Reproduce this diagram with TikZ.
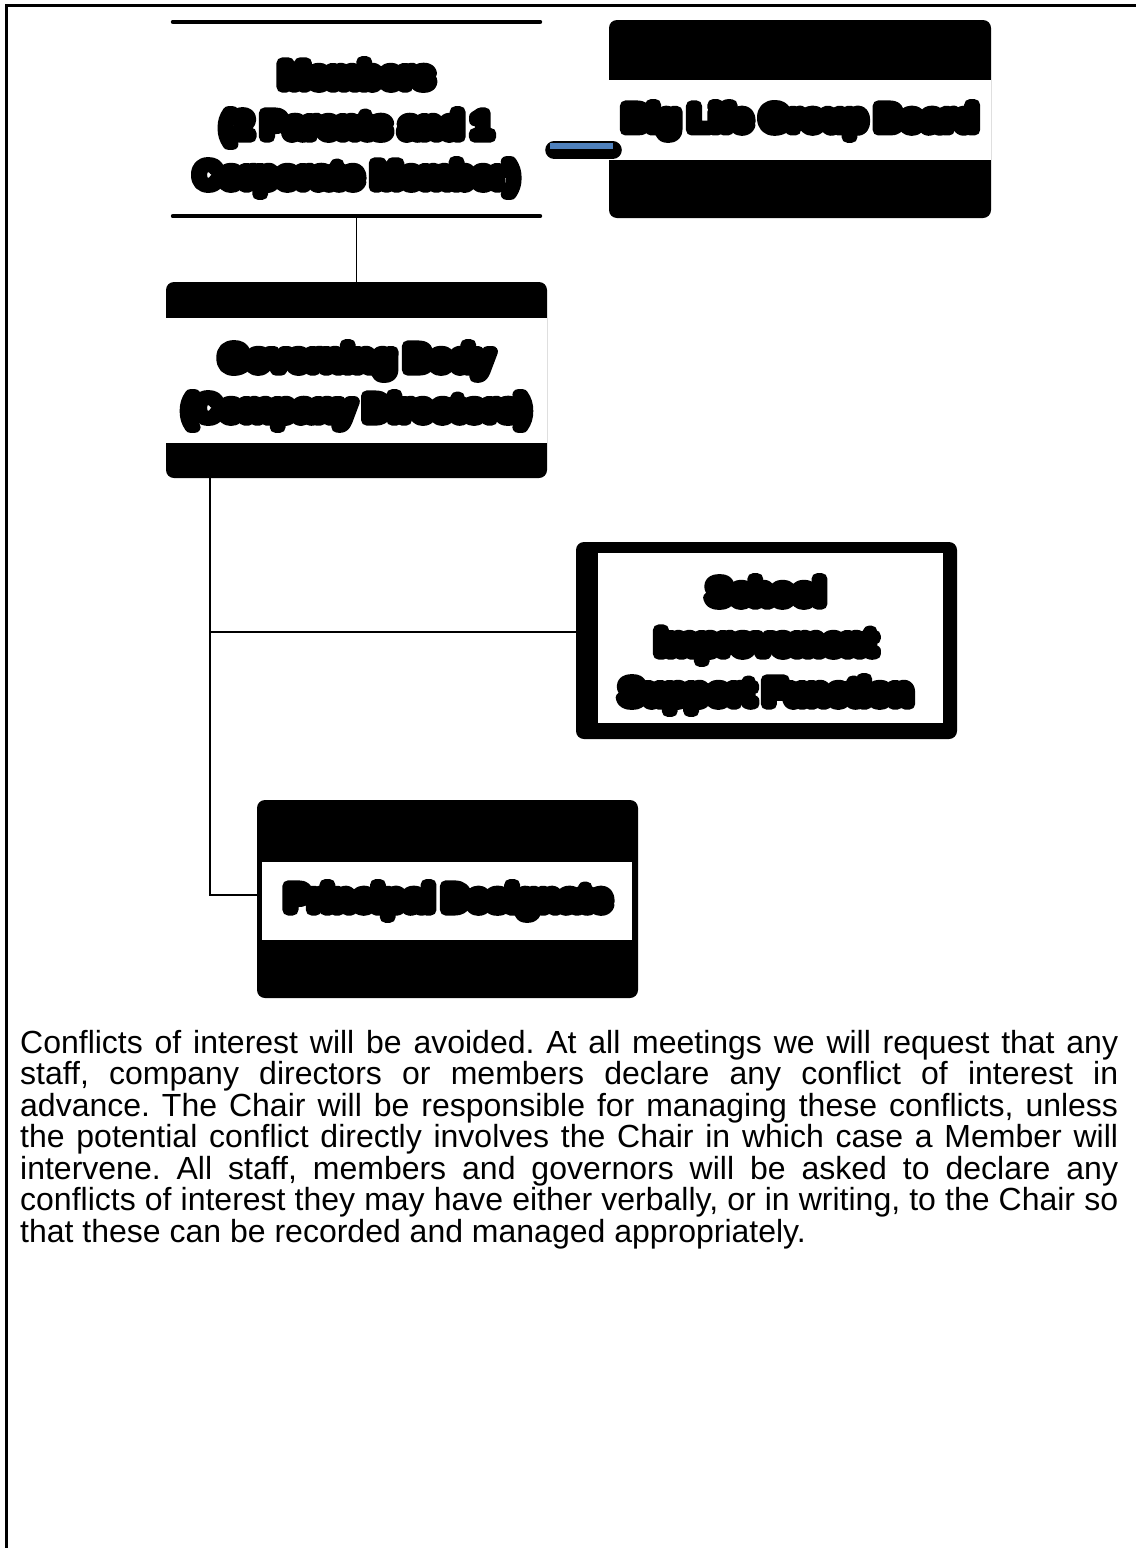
\documentclass[tikz,border=0pt]{standalone}
\usepackage{xcolor}
\usepackage{fontspec}
\setmainfont{Liberation Sans}
\newfontfamily\boxfont{Liberation Sans Bold}
\usetikzlibrary{positioning}

\definecolor{linkblue}{RGB}{79,129,189}
% heavy outlined lettering: fill and stroke the glyphs with round joins
\newcommand{\blob}[1]{\special{pdf:literal direct 2 Tr 11 w 1 j 1 J}#1\special{pdf:literal direct 0 Tr 0.3985 w 0 j 0 J}}

\tikzset{
  link/.style = {draw=black, line width=1.6pt},
  orgbox/.style = {shape=rectangle, rounded corners=8pt, inner sep=0pt,
        minimum width=381pt, minimum height=198pt},
  darkbox/.style = {orgbox, fill=black},
  boxtext/.style = {align=center, inner sep=0pt,
        font=\boxfont\fontsize{35}{50}\selectfont}
}

\begin{document}
\begin{tikzpicture}[x=1pt, y=-1pt]
        \useasboundingbox (0,0) rectangle (1136,1548);
        % page frame
        \draw[line width=3pt] (6,1548) -- (6,5) -- (1136,5);

        % members
        \node[orgbox, minimum width=379pt] (members) at (356.5,119) {};
        \draw[line width=4pt, line cap=round] ([shift={(6,2)}]members.north west) -- ([shift={(-6,2)}]members.north east);
        \draw[line width=4pt, line cap=round] ([shift={(6,-2)}]members.south west) -- ([shift={(-6,-2)}]members.south east);
        \node[boxtext] (memberstxt) at (356.5,128) {\blob{Members}\\\blob{(2 Parents and 1}\\\blob{Corporate Member)}};

        % group board
        \node[darkbox, minimum width=382pt] (board) at (800,119) {};
        \fill[white] ([shift={(0,-39)}]board.west) rectangle ([shift={(0,41)}]board.east);
        \draw[line width=18pt, line cap=round] ([shift={(8,31)}]members.east) -- ([shift={(4,31)}]board.west);
        \draw[line width=6pt, draw=linkblue] ([shift={(4,27)}]members.east) -- ([shift={(4,27)}]board.west);
        \node[boxtext] (boardtxt) at (800,121) {\blob{Big Life Group Board}};

        % governing body
        \node[darkbox, minimum height=196pt] (gov) at (356.5,380) {};
        \fill[white] ([shift={(0,-62)}]gov.west) rectangle ([shift={(0,63)}]gov.east);
        \node[boxtext] (govtxt) at (356.5,386) {\blob{Governing Body}\\\blob{(Company Directors)}};
        \draw[link] (members.south) -- (gov.north);

        % school improvement
        \node[darkbox, minimum height=197pt] (school) at (766.5,640.5) {};
        \fill[white] ([shift={(22,11)}]school.north west) rectangle ([shift={(-14,-16)}]school.south east);
        \node[boxtext] (schooltxt) at (766,645) {\blob{School}\\\blob{Improvement}\\\blob{Support Function}};

        % principal
        \node[darkbox] (principal) at (447.5,899) {};
        \fill[white] ([shift={(5,62)}]principal.north west) rectangle ([shift={(-6,-58)}]principal.south east);
        \node[boxtext] (principaltxt) at (448,901) {\blob{Principal Designate}};

        \coordinate (trunk) at ([xshift=-146.5pt]gov.south);
        \draw[link] (trunk) |- ([yshift=4pt]principal.west);
        \draw[link] ([yshift=8.5pt]school.west) -- ([yshift=8.5pt]school.west -| trunk);

        % policy text
        \node[anchor=north west, text width=1098pt, align=justify, inner sep=0pt,
              font=\fontsize{32}{31.5}\selectfont\frenchspacing] (policy) at (20,1030)
              {Conflicts of interest will be avoided. At all meetings we will request that any\linebreak
               staff, company directors or members declare any conflict of interest in\linebreak
               advance. The Chair will be responsible for managing these conflicts, unless\linebreak
               the potential conflict directly involves the Chair in which case a Member will\linebreak
               intervene. All staff, members and governors will be asked to declare any\linebreak
               conflicts of interest they may have either verbally, or in writing, to the Chair so\linebreak
               that these can be recorded and managed appropriately.};
\end{tikzpicture}
\end{document}
